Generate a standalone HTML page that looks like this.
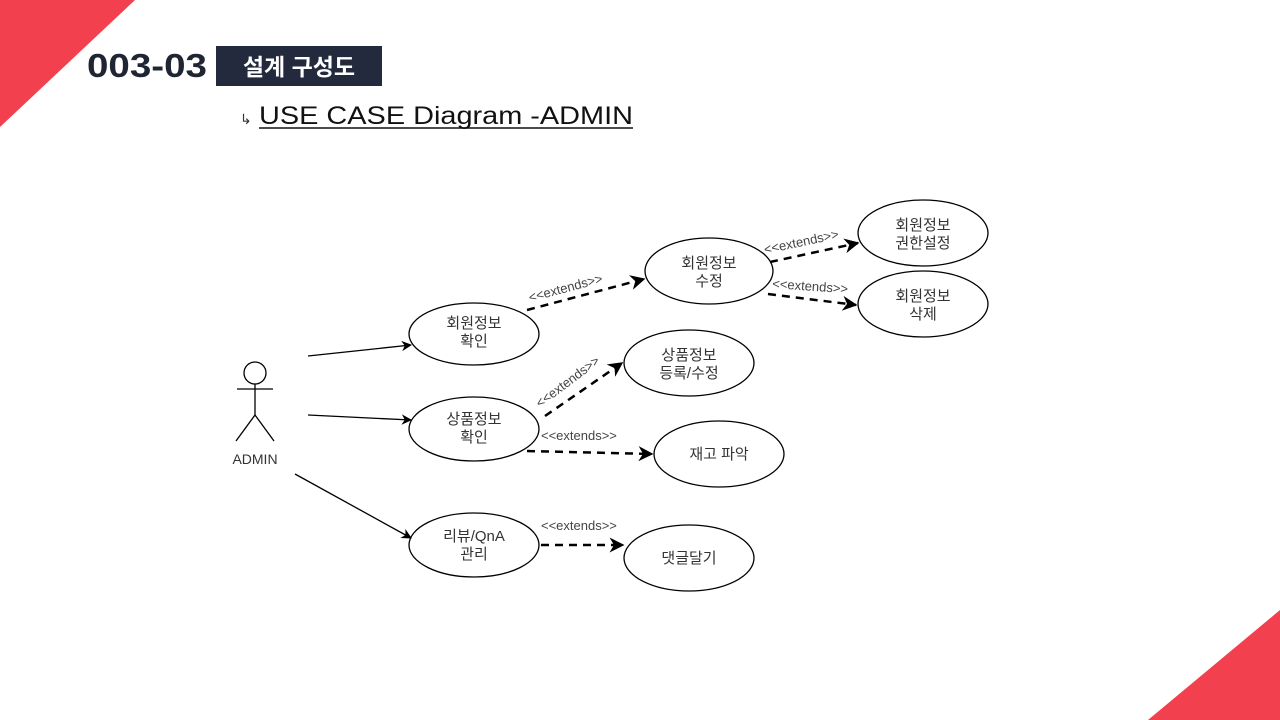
<!DOCTYPE html>
<html><head><meta charset="utf-8"><style>
html,body{margin:0;padding:0;background:#fff;}
svg{display:block;}
</style></head><body>
<svg width="1280" height="720" viewBox="0 0 1280 720" xmlns="http://www.w3.org/2000/svg" font-family="'Liberation Sans','Noto Sans CJK KR',sans-serif">
<defs>
<marker id="a" viewBox="0 0 10 10" refX="9" refY="5" markerWidth="8" markerHeight="8" orient="auto"><path d="M0,0 L10,5 L0,10 L3,5z" fill="#000"/></marker>
<marker id="b" viewBox="0 0 10 10" refX="9" refY="5" markerWidth="6" markerHeight="6" orient="auto"><path d="M0,0 L10,5 L0,10 L3,5z" fill="#000"/></marker>
</defs>
<polygon points="0,0 135,0 0,127" fill="#f2404e"/>
<polygon points="1280,610 1280,720 1148,720" fill="#f2404e"/>
<text x="87" y="77" font-size="33" font-weight="bold" fill="#1f2533" textLength="120" lengthAdjust="spacingAndGlyphs">003-03</text>
<rect x="216" y="46" width="166" height="40" fill="#232a3d"/>
<text x="299" y="75" font-size="23" font-weight="bold" fill="#fff" text-anchor="middle">설계 구성도</text>
<text x="240" y="124" font-size="14" fill="#333">↳</text>
<text x="259" y="124" font-size="25" fill="#111" textLength="374" lengthAdjust="spacingAndGlyphs">USE CASE  Diagram -ADMIN</text>
<line x1="259" y1="128" x2="633" y2="128" stroke="#111" stroke-width="1.5"/>

<g fill="#fff" stroke="#000" stroke-width="1.3">
<ellipse cx="474" cy="334" rx="65" ry="31"/>
<ellipse cx="709" cy="271" rx="64" ry="33"/>
<ellipse cx="923" cy="233" rx="65" ry="33"/>
<ellipse cx="923" cy="304" rx="65" ry="33"/>
<ellipse cx="689" cy="363" rx="65" ry="33"/>
<ellipse cx="474" cy="429" rx="65" ry="32"/>
<ellipse cx="719" cy="454" rx="65" ry="33"/>
<ellipse cx="474" cy="545" rx="65" ry="32"/>
<ellipse cx="689" cy="558" rx="65" ry="33"/>
</g>
<g font-size="15" fill="#333" text-anchor="middle">
<text x="474" y="328">회원정보</text><text x="474" y="346">확인</text>
<text x="709" y="268">회원정보</text><text x="709" y="286">수정</text>
<text x="923" y="230">회원정보</text><text x="923" y="248">권한설정</text>
<text x="923" y="301">회원정보</text><text x="923" y="319">삭제</text>
<text x="689" y="360">상품정보</text><text x="689" y="378">등록/수정</text>
<text x="474" y="424">상품정보</text><text x="474" y="442">확인</text>
<text x="719" y="459">재고 파악</text>
<text x="474" y="541">리뷰/QnA</text><text x="474" y="559">관리</text>
<text x="689" y="563">댓글달기</text>
<text x="255" y="464" font-size="14">ADMIN</text>
</g>
<g stroke="#000" stroke-width="1.3" fill="none">
<circle cx="255" cy="373" r="11" fill="#fff"/>
<line x1="255" y1="384" x2="255" y2="415"/>
<line x1="237" y1="389" x2="273" y2="389"/>
<line x1="255" y1="415" x2="236" y2="441"/>
<line x1="255" y1="415" x2="274" y2="441"/>
<line x1="308" y1="356" x2="411" y2="345" marker-end="url(#a)"/>
<line x1="308" y1="415" x2="411" y2="420" marker-end="url(#a)"/>
<line x1="295" y1="474" x2="411" y2="538" marker-end="url(#a)"/>
</g>
<g stroke="#000" stroke-width="2.5" fill="none" stroke-dasharray="8,6">
<line x1="527" y1="310" x2="644" y2="279" marker-end="url(#b)"/>
<line x1="545" y1="416" x2="622" y2="363" marker-end="url(#b)"/>
<line x1="527" y1="451" x2="652" y2="454" marker-end="url(#b)"/>
<line x1="541" y1="545" x2="623" y2="545" marker-end="url(#b)"/>
<line x1="770" y1="262" x2="858" y2="243" marker-end="url(#b)"/>
<line x1="768" y1="294" x2="856" y2="305" marker-end="url(#b)"/>
</g>
<g font-size="13" fill="#444">
<text transform="translate(530,302) rotate(-15)">&lt;&lt;extends&gt;&gt;</text>
<text transform="translate(540,408) rotate(-37)">&lt;&lt;extends&gt;&gt;</text>
<text x="541" y="440">&lt;&lt;extends&gt;&gt;</text>
<text x="541" y="530">&lt;&lt;extends&gt;&gt;</text>
<text transform="translate(765,254) rotate(-12)">&lt;&lt;extends&gt;&gt;</text>
<text transform="translate(772,288) rotate(4)">&lt;&lt;extends&gt;&gt;</text>
</g>
</svg>
</body></html>
